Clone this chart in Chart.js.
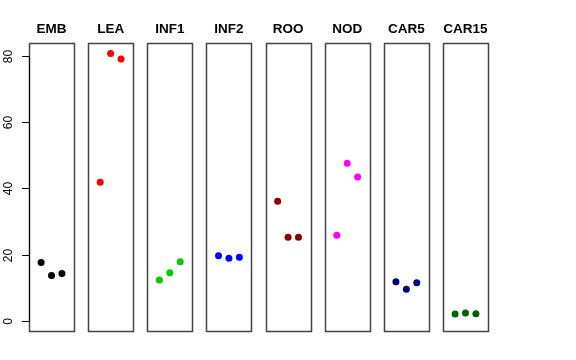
<!DOCTYPE html>
<html>
<head>
<meta charset="utf-8">
<script src="https://cdn.jsdelivr.net/npm/chart.js@4"></script>
<style>
html,body{margin:0;padding:0;background:#fff;}
#wrap{position:relative;width:576px;height:360px;}
</style>
</head>
<body>
<div id="wrap"><canvas id="c" width="576" height="360"></canvas></div>
<script>
const categories = ["EMB","LEA","INF1","INF2","ROO","NOD","CAR5","CAR15"];
const EMB   = [17.6, 13.7, 14.3];
const LEA   = [41.8, 80.7, 79.1];
const INF1  = [12.3, 14.5, 17.8];
const INF2  = [19.6, 18.9, 19.2];
const ROO   = [36.1, 25.2, 25.2];
const NOD   = [25.8, 47.6, 43.4];
const CAR5  = [11.8, 9.5, 11.5];
const CAR15 = [2.0, 2.3, 2.1];
const seriesValues = [EMB, LEA, INF1, INF2, ROO, NOD, CAR5, CAR15];
const colors = ["#000000","#FF0000","#00CD00","#0000FF","#8B0000","#FF00FF","#000080","#006400"];
const yTicks = [0, 20, 40, 60, 80];

const PANEL_STEP = 5.676;   // panel spacing in x units
const XLO = -0.16, XHI = 4.16; // per-panel x extent

const datasets = categories.map((cat, i) => ({
  label: cat,
  data: seriesValues[i].map((v, j) => ({x: i * PANEL_STEP + (j + 1), y: v})),
  backgroundColor: colors[i],
  borderColor: colors[i],
  pointRadius: 3.5,
  pointHoverRadius: 3.5,
  borderWidth: 0
}));

const panelPlugin = {
  id: 'panels',
  beforeDatasetsDraw(chart) {
    const ctx = chart.ctx, xs = chart.scales.x, ys = chart.scales.y;
    const top = chart.chartArea.top, bottom = chart.chartArea.bottom;
    ctx.save();
    ctx.strokeStyle = '#444444';
    ctx.lineWidth = 1.5;
    categories.forEach((cat, i) => {
      const l = xs.getPixelForValue(i * PANEL_STEP + XLO);
      const r = xs.getPixelForValue(i * PANEL_STEP + XHI);
      ctx.strokeRect(Math.round(l) + 0.5, Math.round(top) + 0.5, Math.round(r - l), Math.round(bottom - top));
      ctx.fillStyle = '#000';
      ctx.font = 'bold 13.5px "Liberation Sans", Arial, sans-serif';
      ctx.textAlign = 'center';
      ctx.textBaseline = 'middle';
      ctx.fillText(cat, (l + r) / 2, 29.5);
    });
    // y axis
    const ax = Math.round(xs.getPixelForValue(XLO)) + 0.5;
    ctx.strokeStyle = '#000';
    ctx.lineWidth = 1;
    ctx.beginPath();
    ctx.moveTo(ax, ys.getPixelForValue(yTicks[0]));
    ctx.lineTo(ax, ys.getPixelForValue(yTicks[yTicks.length - 1]));
    ctx.stroke();
    ctx.font = '12px "Liberation Sans", Arial, sans-serif';
    yTicks.forEach(t => {
      const py = Math.round(ys.getPixelForValue(t)) + 0.5;
      ctx.beginPath();
      ctx.moveTo(ax - 7.5, py);
      ctx.lineTo(ax, py);
      ctx.stroke();
      ctx.save();
      ctx.translate(8.5, py);
      ctx.rotate(-Math.PI / 2);
      ctx.textAlign = 'center';
      ctx.textBaseline = 'middle';
      ctx.fillText(String(t), 0, 0);
      ctx.restore();
    });
    ctx.restore();
  }
};

new Chart(document.getElementById('c'), {
  type: 'scatter',
  data: { datasets },
  options: {
    responsive: false,
    animation: false,
    layout: { padding: { left: 29, right: 88, top: 43, bottom: 29 } },
    plugins: { legend: { display: false }, tooltip: { enabled: false }, title: { display: false } },
    scales: {
      x: { type: 'linear', display: false, min: XLO, max: 7 * PANEL_STEP + XHI },
      y: { type: 'linear', display: false, min: -3.1, max: 83.9 }
    }
  },
  plugins: [panelPlugin]
});
</script>
</body>
</html>
